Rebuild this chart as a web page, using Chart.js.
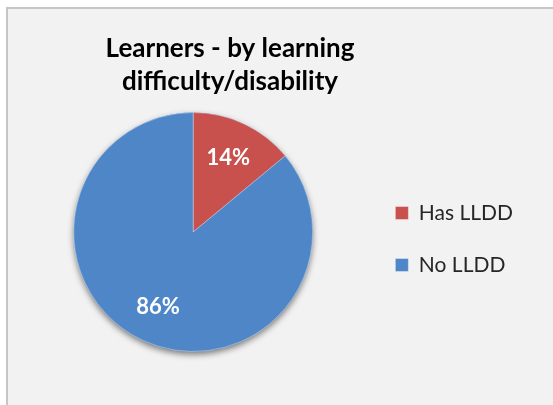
<!DOCTYPE html>
<html>
<head>
<meta charset="utf-8">
<title>Learners - by learning difficulty/disability</title>
<script src="https://cdn.jsdelivr.net/npm/chart.js"></script>
<style>
  html, body { margin: 0; padding: 0; background: #fff; }
  #frame {
    position: absolute; left: 6px; top: 7px; width: 600px; height: 450px;
    background: #f2f2f2;
    border-left: 2px solid #c6c6c6;
    border-top: 2px solid #c6c6c6;
  }
  #wrap { position: absolute; left: 0; top: 0; width: 553px; height: 405px; }
</style>
</head>
<body>
<div id="frame"></div>
<div id="wrap"><canvas id="myChart" width="553" height="405"></canvas></div>
<script>
// data for the pie
var sliceLabels = ["Has LLDD", "No LLDD"];
var sliceValues = [14, 86];
var sliceColors = ["#c8504d", "#4f86c8"];
var titleLines = ["Learners - by learning", "difficulty/disability"];

var FONT = "Lato, 'Open Sans', sans-serif";

// small fixes Chart.js has no option for + the % labels
var pieExtras = {
  id: "pieExtras",
  afterLayout: function(chart) {
    // title sits centred over the left part, not the whole canvas
    chart.titleBlock.left = 0;
    chart.titleBlock.right = 460;
    // legend rows a bit lower than the pie centre
    chart.legend.top += 7;
    chart.legend.bottom += 7;
  },
  beforeDatasetsDraw: function(chart) {
    var arc = chart.getDatasetMeta(0).data[0];
    if (!arc) return;
    var ctx = chart.ctx;
    ctx.save();
    ctx.shadowColor = "rgba(0,0,0,0.5)";
    ctx.shadowBlur = 6;
    ctx.shadowOffsetY = 3;
    ctx.fillStyle = sliceColors[1];
    ctx.beginPath();
    ctx.arc(arc.x, arc.y, arc.outerRadius, 0, Math.PI * 2);
    ctx.fill();
    ctx.restore();
  },
  afterDatasetsDraw: function(chart) {
    var ctx = chart.ctx;
    var meta = chart.getDatasetMeta(0);
    var total = sliceValues.reduce(function(a, b) { return a + b; }, 0);
    ctx.save();
    ctx.fillStyle = "#ffffff";
    ctx.font = "bold 22px " + FONT;
    ctx.textAlign = "center";
    ctx.textBaseline = "middle";
    meta.data.forEach(function(arc, i) {
      var mid = (arc.startAngle + arc.endAngle) / 2;
      var r = arc.outerRadius * 0.69;
      var txt = Math.round(sliceValues[i] / total * 100) + "%";
      ctx.fillText(txt, arc.x + Math.cos(mid) * r, arc.y + Math.sin(mid) * r);
    });
    ctx.restore();
  }
};

new Chart("myChart", {
  type: "pie",
  data: {
    labels: sliceLabels,
    datasets: [{
      data: sliceValues,
      backgroundColor: sliceColors,
      borderColor: "rgba(255,255,255,0.35)",
      borderWidth: 1
    }]
  },
  options: {
    responsive: false,
    animation: false,
    layout: {
      padding: { top: 22, left: 22, right: 30, bottom: 53 }
    },
    plugins: {
      tooltip: { enabled: false },
      title: {
        display: true,
        text: titleLines,
        color: "#000000",
        font: { family: FONT, size: 26, weight: "bold", lineHeight: 1.27 },
        padding: { top: 10, bottom: 14 }
      },
      legend: {
        position: "right",
        fullSize: false,
        labels: {
          color: "#262626",
          font: { family: FONT, size: 21 },
          boxWidth: 13,
          boxHeight: 13,
          padding: 31
        }
      }
    }
  },
  plugins: [pieExtras]
});
</script>
</body>
</html>
